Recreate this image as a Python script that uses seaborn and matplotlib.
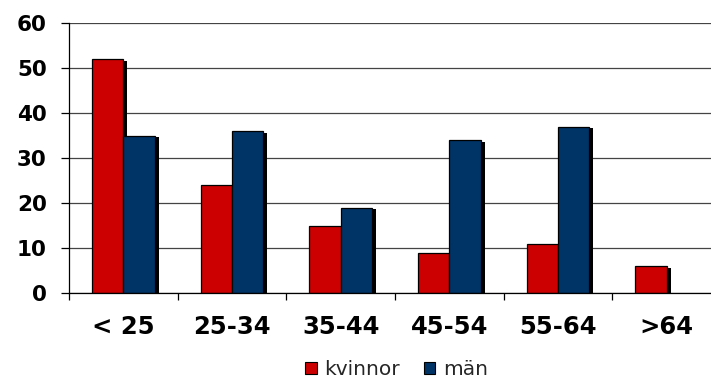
import numpy as np
import pandas as pd
import seaborn as sns
import matplotlib
matplotlib.use("Agg")
import matplotlib.pyplot as plt
import matplotlib.patheffects as pe
from matplotlib.patches import Patch
from matplotlib.ticker import FixedLocator

# Age groups and counts per sex
age_groups = ["< 25", "25-34", "35-44", "45-54", "55-64", ">64"]
kvinnor = [52, 24, 15, 9, 11, 6]
man = [35, 36, 19, 34, 37, 0]
series_names = ["kvinnor", "män"]
colors = ["#CC0000", "#003366"]
y_ticks = [0, 10, 20, 30, 40, 50, 60]

df = pd.DataFrame({
    "grupp": age_groups * 2,
    "kon": [series_names[0]] * len(age_groups) + [series_names[1]] * len(age_groups),
    "antal": kvinnor + man,
})

sns.set_theme(style="white")
plt.rcParams["font.family"] = ["DejaVu Sans"]

fig = plt.figure(figsize=(7.11, 3.81), dpi=100)
ax = fig.add_axes([69 / 711, 1 - 293 / 381, (721 - 69) / 711, (293 - 23) / 381])

sns.barplot(
    data=df, x="grupp", y="antal", hue="kon", order=age_groups,
    hue_order=series_names, palette=colors, width=0.574, saturation=1,
    edgecolor="black", linewidth=0.9, legend=False, errorbar=None, ax=ax,
)

# drop shadow on every visible bar; empty bars are hidden
shadow = [pe.SimplePatchShadow(offset=(2.9, -1.4), shadow_rgbFace="black", alpha=1.0),
          pe.Normal()]
for bar in ax.patches:
    if not np.isfinite(bar.get_height()) or bar.get_height() == 0:
        bar.set_visible(False)
        continue
    bar.set_path_effects(shadow)

ax.set_xlim(-0.5, len(age_groups) - 0.5)
ax.set_ylim(0, 60)
ax.set_yticks(y_ticks)
ax.set_yticklabels([str(v) for v in y_ticks], fontsize=15.5, fontweight="heavy")
ax.set_xticks(range(len(age_groups)))
ax.set_xticklabels(age_groups, fontsize=17.5, fontweight="heavy")
ax.xaxis.set_minor_locator(FixedLocator(np.arange(-0.5, len(age_groups), 1.0)))
ax.tick_params(axis="x", which="major", length=0, pad=16, colors="black")
ax.tick_params(axis="x", which="minor", length=5, width=0.9, direction="out",
               color="black", bottom=True)
ax.tick_params(axis="y", length=6, width=0.9, direction="out", pad=10,
               colors="black", left=True)
ax.set_xlabel("")
ax.set_ylabel("")

ax.yaxis.grid(True, color="#444444", linewidth=0.9)
ax.set_axisbelow(True)
for side in ["top", "right"]:
    ax.spines[side].set_visible(False)
for side in ["left", "bottom"]:
    ax.spines[side].set_color("black")
    ax.spines[side].set_linewidth(0.9)

handles = [Patch(facecolor=c, edgecolor="black", linewidth=0.8) for c in colors]
fig.legend(handles, series_names, loc="center", bbox_to_anchor=(397 / 711, 0.03),
           ncol=2, frameon=False, fontsize=14.5, handlelength=0.55,
           handleheight=0.55, handletextpad=0.4, columnspacing=1.2,
           borderpad=0.1)

fig.savefig("out.png", dpi=100)
